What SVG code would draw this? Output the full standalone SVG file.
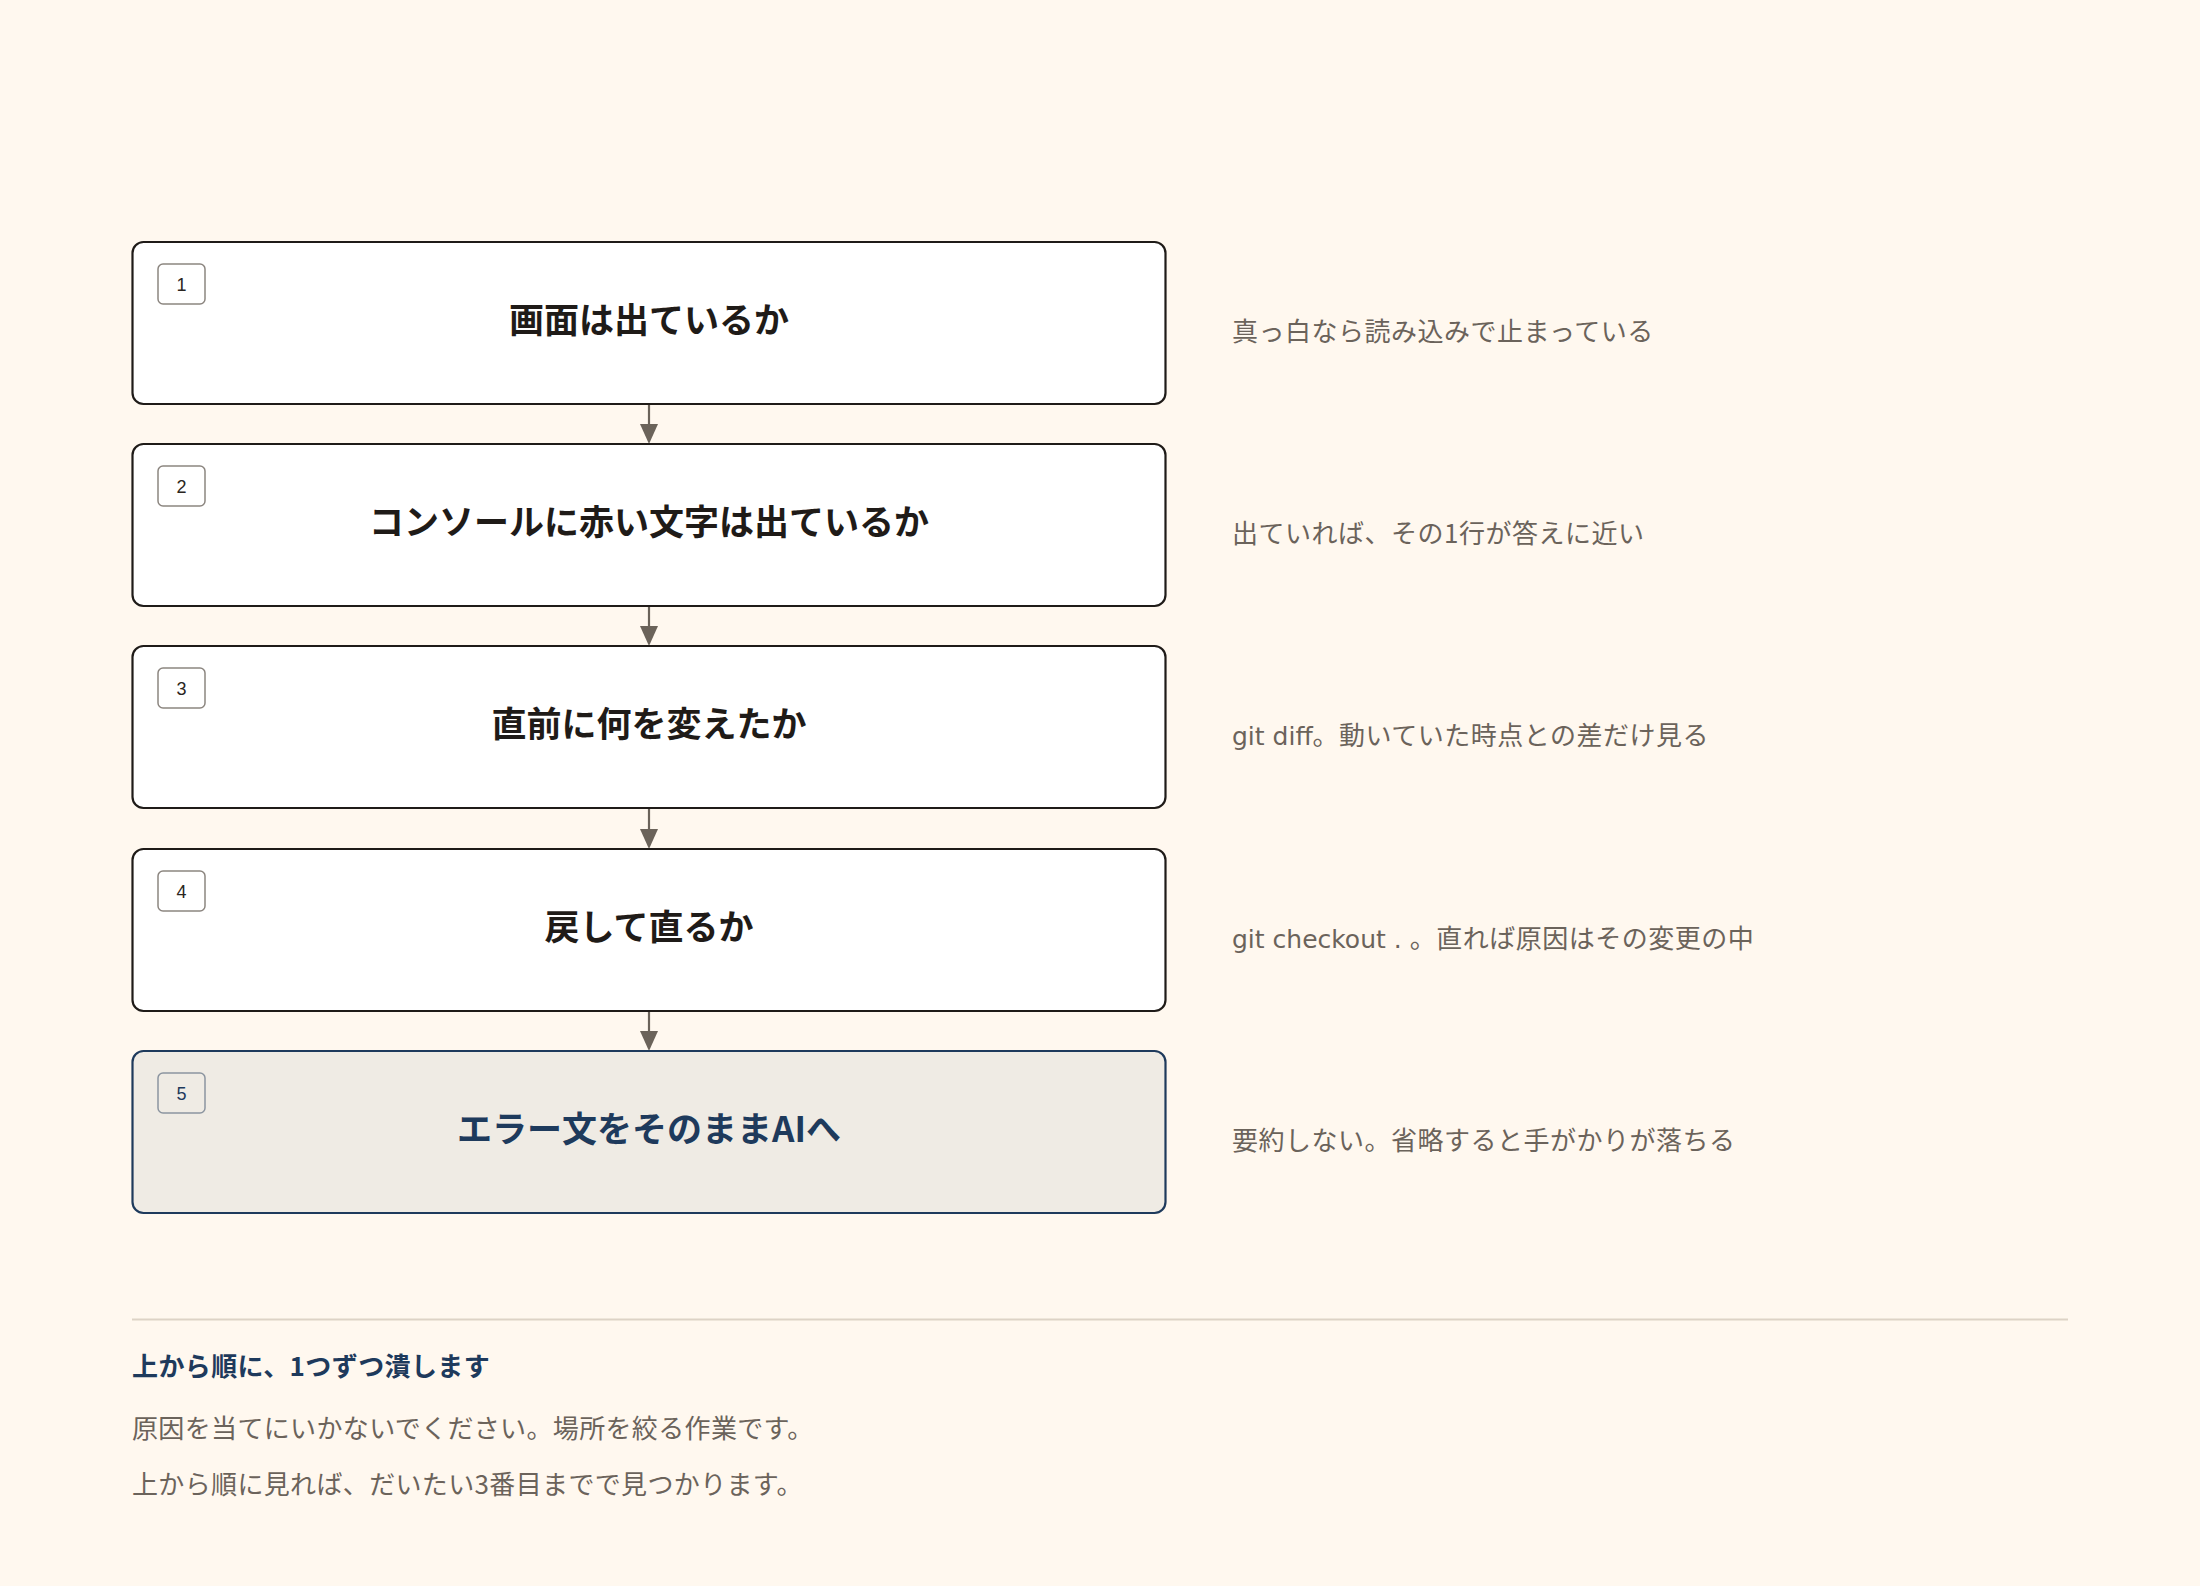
<svg xmlns="http://www.w3.org/2000/svg" width="2200" height="1586" viewBox="0 0 2200 1586">
<defs>
<style>
.box{fill:#ffffff;stroke:#1f1b18;stroke-width:2.2}
.box.final{fill:#efebe4;stroke:#1e3a5c}
.badge{fill:#ffffff;stroke:#8c8680;stroke-width:1.5}
.final .badge{fill:#efebe4;stroke:#8c95a0}
.num{font-family:"Liberation Sans","Noto Sans CJK JP",sans-serif;font-size:18px;fill:#2a2521;text-anchor:middle}
.final .num{fill:#1e3a5c}
.title{font-family:"Noto Sans CJK JP",sans-serif;font-size:35px;font-weight:700;fill:#1f1b18;text-anchor:middle}
.final .title{fill:#1e3a5c}
.side{font-family:"Noto Sans CJK JP",sans-serif;font-size:26px;fill:#6b635b;letter-spacing:0.5px}
.lat{font-family:"DejaVu Sans","Noto Sans CJK JP",sans-serif;font-size:25px;letter-spacing:0px}
.conn{stroke:#6b635a;stroke-width:2.2;fill:none}
.head{fill:#6b635a}
.foot-h{font-family:"Noto Sans CJK JP",sans-serif;font-size:26px;font-weight:700;fill:#1e3a5c;letter-spacing:0.4px}
.foot{font-family:"Noto Sans CJK JP",sans-serif;font-size:26px;fill:#6b635b;letter-spacing:0.35px}
</style>
</defs>
<rect width="2200" height="1586" fill="#fff8ef"/>

<g id="connectors">
<line class="conn" x1="649" y1="405" x2="649" y2="425"/>
<path class="head" d="M640,424 L658,424 L649,444 Z"/>
<line class="conn" x1="649" y1="607" x2="649" y2="627"/>
<path class="head" d="M640,626 L658,626 L649,646 Z"/>
<line class="conn" x1="649" y1="809" x2="649" y2="829"/>
<path class="head" d="M640,829 L658,829 L649,849 Z"/>
<line class="conn" x1="649" y1="1012" x2="649" y2="1032"/>
<path class="head" d="M640,1031 L658,1031 L649,1051 Z"/>
</g>

<g id="node1">
<rect class="box" x="132.5" y="242" width="1033" height="162" rx="11"/>
<rect class="badge" x="158" y="264" width="47" height="40" rx="5"/>
<text class="num" x="181.5" y="291">1</text>
<text class="title" x="649" y="333">画面は出ているか</text>
</g>
<text class="side" x="1232" y="341">真っ白なら読み込みで止まっている</text>

<g id="node2">
<rect class="box" x="132.5" y="444" width="1033" height="162" rx="11"/>
<rect class="badge" x="158" y="466" width="47" height="40" rx="5"/>
<text class="num" x="181.5" y="493">2</text>
<text class="title" x="649" y="535">コンソールに赤い文字は出ているか</text>
</g>
<text class="side" x="1232" y="543">出ていれば、その1行が答えに近い</text>

<g id="node3">
<rect class="box" x="132.5" y="646" width="1033" height="162" rx="11"/>
<rect class="badge" x="158" y="668" width="47" height="40" rx="5"/>
<text class="num" x="181.5" y="695">3</text>
<text class="title" x="649" y="737">直前に何を変えたか</text>
</g>
<text class="side" x="1232" y="745"><tspan class="lat">git diff</tspan>。動いていた時点との差だけ見る</text>

<g id="node4">
<rect class="box" x="132.5" y="849" width="1033" height="162" rx="11"/>
<rect class="badge" x="158" y="871" width="47" height="40" rx="5"/>
<text class="num" x="181.5" y="898">4</text>
<text class="title" x="649" y="940">戻して直るか</text>
</g>
<text class="side" x="1232" y="948"><tspan class="lat">git checkout . </tspan>。直れば原因はその変更の中</text>

<g id="node5" class="final">
<rect class="box final" x="132.5" y="1051" width="1033" height="162" rx="11"/>
<rect class="badge" x="158" y="1073" width="47" height="40" rx="5"/>
<text class="num" x="181.5" y="1100">5</text>
<text class="title" x="649" y="1142">エラー文をそのままAIへ</text>
</g>
<text class="side" x="1232" y="1150">要約しない。省略すると手がかりが落ちる</text>

<line x1="132" y1="1319.5" x2="2068" y2="1319.5" stroke="#ddd3c6" stroke-width="2"/>
<text class="foot-h" x="132" y="1376">上から順に、1つずつ潰します</text>
<text class="foot" x="132" y="1438">原因を当てにいかないでください。場所を絞る作業です。</text>
<text class="foot" x="132" y="1494">上から順に見れば、だいたい3番目までで見つかります。</text>
</svg>
